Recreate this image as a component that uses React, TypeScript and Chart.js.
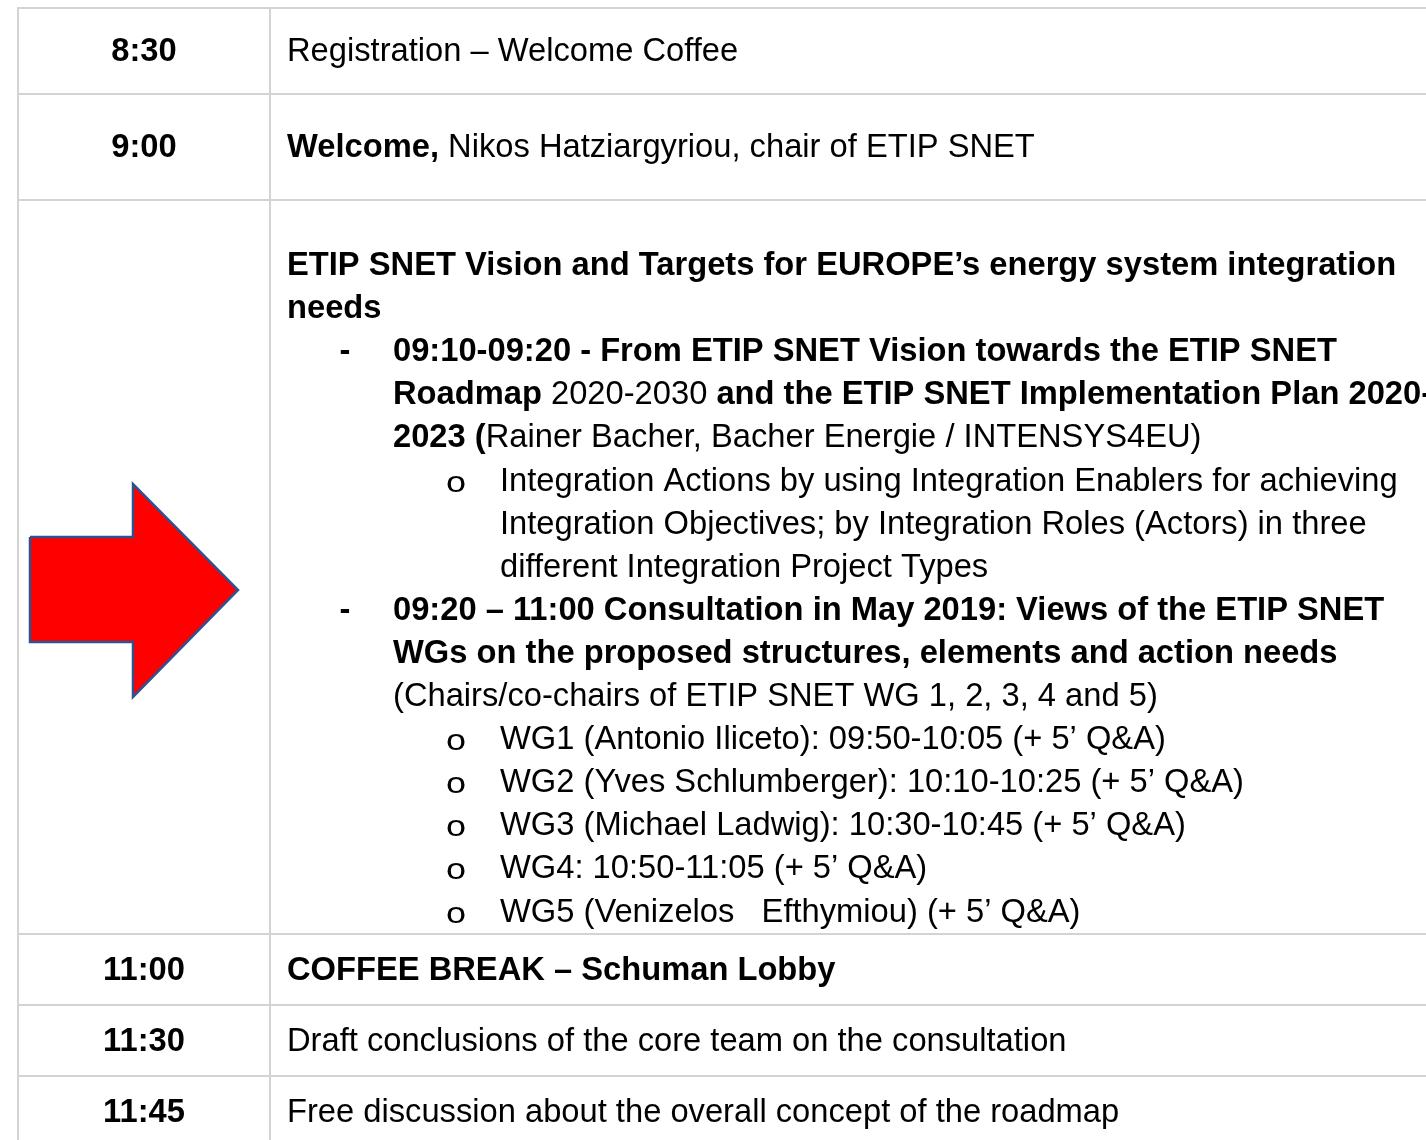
import React, { useEffect, useRef } from 'react';
import { Chart, registerables } from 'chart.js';

Chart.register(...registerables);

const W = 1426;
const H = 1140;

// table structure
const times = ['8:30', '9:00', '', '11:00', '11:30', '11:45'];
const rowLines = [8, 94, 200, 934, 1005, 1076];
const rowBaselines = [60.5, 156.5, 0, 979.5, 1050.5, 1121.5];
const colLines = [18, 270];

// single-line row contents: [text, bold] runs
const rowContents: [string, boolean][][] = [
  [['Registration – Welcome Coffee', false]],
  [['Welcome,', true], [' Nikos Hatziargyriou, chair of ETIP SNET', false]],
  [],
  [['COFFEE BREAK – Schuman Lobby', true]],
  [['Draft conclusions of the core team on the consultation', false]],
  [['Free discussion about the overall concept of the roadmap', false]],
];

// multi-line agenda cell
const agendaLevels = [0, 0, 1, 1, 1, 2, 2, 2, 1, 1, 1, 2, 2, 2, 2, 2];
const agendaBullets = ['', '', '-', '', '', 'o', '', '', '-', '', '', 'o', 'o', 'o', 'o', 'o'];
const agendaRuns: [string, boolean][][] = [
  [['ETIP SNET Vision and Targets for EUROPE’s energy system integration', true]],
  [['needs', true]],
  [['09:10-09:20 - From ETIP SNET Vision towards the ETIP SNET', true]],
  [['Roadmap ', true], ['2020-2030 ', false], ['and the ETIP SNET Implementation Plan 2020-', true]],
  [['2023 (', true], ['Rainer Bacher, Bacher Energie / INTENSYS4EU)', false]],
  [['Integration Actions by using Integration Enablers for achieving', false]],
  [['Integration Objectives; by Integration Roles (Actors) in three', false]],
  [['different Integration Project Types', false]],
  [['09:20 – 11:00 Consultation in May 2019: Views of the ETIP SNET', true]],
  [['WGs on the proposed structures, elements and action needs', true]],
  [['(Chairs/co-chairs of ETIP SNET WG 1, 2, 3, 4 and 5)', false]],
  [['WG1 (Antonio Iliceto): 09:50-10:05 (+ 5’ Q&A)', false]],
  [['WG2 (Yves Schlumberger): 10:10-10:25 (+ 5’ Q&A)', false]],
  [['WG3 (Michael Ladwig): 10:30-10:45 (+ 5’ Q&A)', false]],
  [['WG4: 10:50-11:05 (+ 5’ Q&A)', false]],
  [['WG5 (Venizelos   Efthymiou) (+ 5’ Q&A)', false]],
];
const agendaFirstBaseline = 275;
const agendaLineStep = 43.1;

// arrow outline
const arrowX = [30, 133, 133, 238, 133, 133, 30, 30];
const arrowY = [537, 537, 484, 590, 697, 642, 642, 537];

const FONT_SIZE = 32.7;
const FAMILY = '"Liberation Sans", Arial, sans-serif';
const TEXT_X = 287;
const TIME_X = 144;
const levelTextX = [287, 393, 500];
const levelBulletX = [0, 345, 456];

function drawRuns(ctx: CanvasRenderingContext2D, runs: [string, boolean][], x: number, y: number) {
  let cx = x;
  for (const [t, b] of runs) {
    ctx.font = `${b ? 'bold ' : ''}${FONT_SIZE}px ${FAMILY}`;
    ctx.fillText(t, cx, y);
    cx += ctx.measureText(t).width;
  }
}

const tablePlugin = {
  id: 'tablePlugin',
  beforeDatasetsDraw(chart: any) {
    const ctx: CanvasRenderingContext2D = chart.ctx;
    const xs = chart.scales.x;
    const ys = chart.scales.y;
    const px = (v: number) => xs.getPixelForValue(v);
    const py = (v: number) => ys.getPixelForValue(v);
    ctx.save();
    ctx.fillStyle = '#ffffff';
    ctx.fillRect(0, 0, chart.width, chart.height);
    // grid
    ctx.strokeStyle = '#d3d3d3';
    ctx.lineWidth = 2;
    ctx.beginPath();
    for (const r of rowLines) {
      ctx.moveTo(px(colLines[0]) - 1, py(r));
      ctx.lineTo(px(W), py(r));
    }
    for (const c of colLines) {
      ctx.moveTo(px(c), py(rowLines[0]));
      ctx.lineTo(px(c), py(H));
    }
    ctx.stroke();

    ctx.fillStyle = '#000000';
    ctx.textBaseline = 'alphabetic';
    // times
    ctx.font = `bold ${FONT_SIZE}px ${FAMILY}`;
    ctx.textAlign = 'center';
    times.forEach((t, i) => {
      if (t) ctx.fillText(t, px(TIME_X), py(rowBaselines[i]));
    });
    ctx.textAlign = 'left';
    rowContents.forEach((runs, i) => {
      if (runs.length) drawRuns(ctx, runs, px(TEXT_X), py(rowBaselines[i]));
    });
    // agenda cell
    agendaRuns.forEach((runs, i) => {
      const y = py(agendaFirstBaseline + i * agendaLineStep);
      const lvl = agendaLevels[i];
      const b = agendaBullets[i];
      if (b === '-') {
        ctx.font = `bold ${FONT_SIZE}px ${FAMILY}`;
        ctx.textAlign = 'center';
        ctx.fillText('-', px(levelBulletX[lvl]), y);
        ctx.textAlign = 'left';
      } else if (b === 'o') {
        ctx.save();
        ctx.font = `30px "Liberation Mono", "Courier New", monospace`;
        ctx.textAlign = 'center';
        ctx.translate(px(levelBulletX[lvl]), y + 1);
        ctx.scale(1.2, 1);
        ctx.fillText('o', 0, 0);
        ctx.restore();
      }
      drawRuns(ctx, runs, px(levelTextX[lvl]), y);
    });
    ctx.restore();
  },
};

export default function App() {
  const ref = useRef<HTMLCanvasElement | null>(null);
  useEffect(() => {
    document.body.style.margin = '0';
    if (!ref.current) return;
    const chart = new Chart(ref.current, {
      type: 'scatter',
      data: {
        datasets: [
          {
            data: arrowX.map((x, i) => ({ x, y: arrowY[i] })),
            showLine: true,
            fill: 'shape' as any,
            backgroundColor: '#ff0000',
            borderColor: '#2f528f',
            borderWidth: 2.5,
            pointRadius: 0,
            tension: 0,
          },
        ],
      },
      options: {
        animation: false,
        responsive: false,
        devicePixelRatio: 1,
        layout: { padding: 0 },
        scales: {
          x: { type: 'linear', min: 0, max: W, display: false },
          y: { type: 'linear', min: 0, max: H, reverse: true, display: false },
        },
        plugins: { legend: { display: false }, tooltip: { enabled: false } },
      },
      plugins: [tablePlugin],
    });
    return () => chart.destroy();
  }, []);
  return <canvas ref={ref} width={W} height={H} style={{ display: 'block' }} />;
}
